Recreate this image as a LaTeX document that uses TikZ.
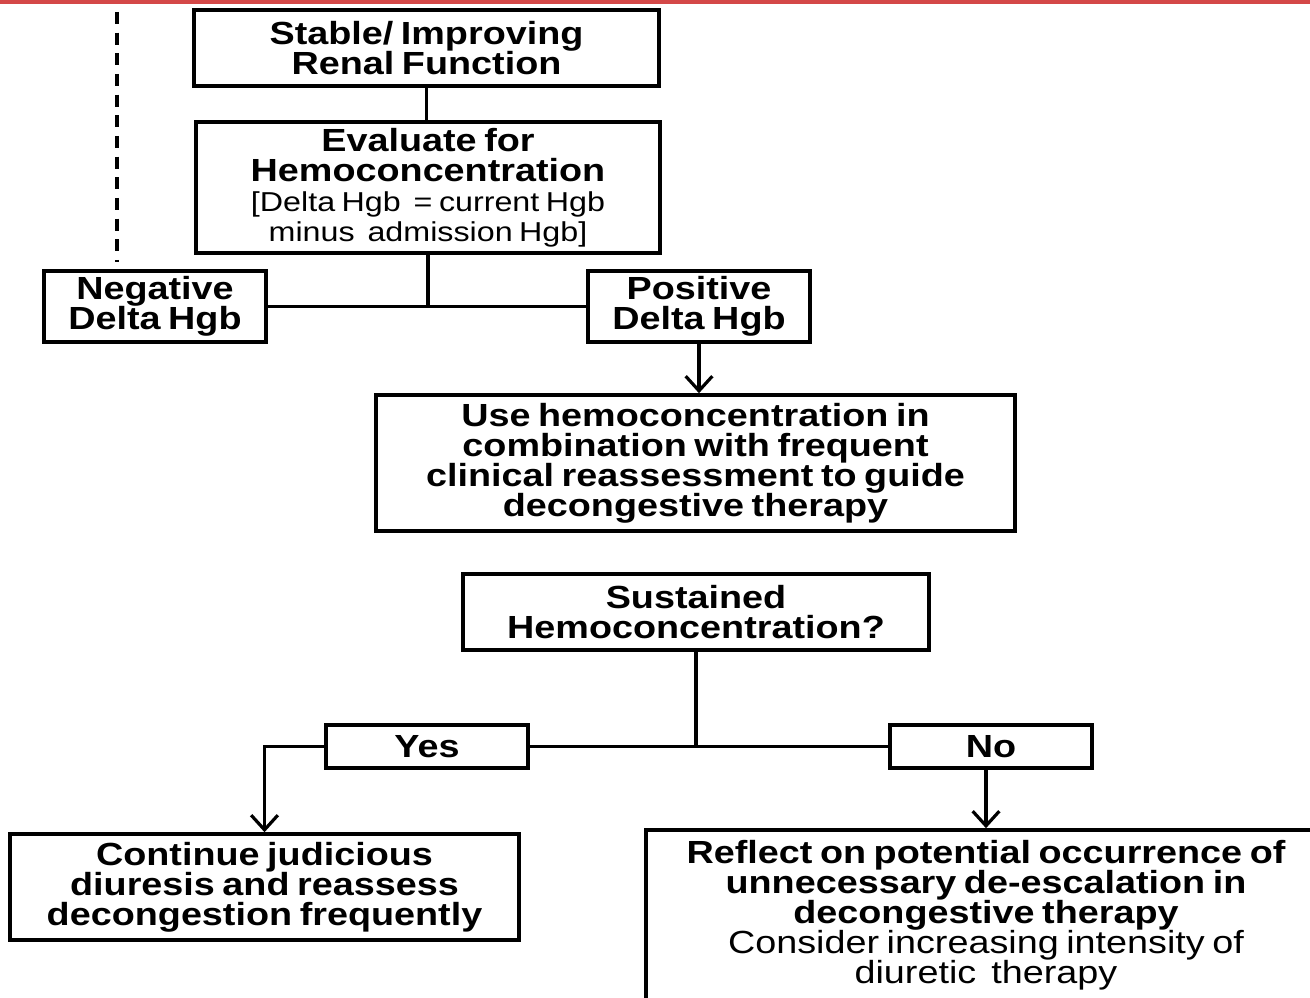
\documentclass[tikz,border=0pt]{standalone}
\usepackage{fontspec}
\setmainfont{Liberation Sans}[FakeStretch=1.18,WordSpace=0.72]
\usetikzlibrary{arrows.meta}
\newcommand\fbig{\fontsize{24}{22.5}\selectfont\bfseries}
\newcommand\fsml{\fontsize{20.5}{20}\selectfont\mdseries}
\newcommand\fnrm{\fontsize{24}{22.5}\selectfont\mdseries}
\definecolor{topred}{RGB}{212,72,72}
\begin{document}
\begin{tikzpicture}[x=0.75pt,y=-0.75pt,
  wh/.style 2 args={minimum width={#1*0.75pt}, minimum height={#2*0.75pt}},
  box/.style={draw, line width=2.7pt, align=center, inner sep=0pt, text=black, font=\fbig},
  conn/.style={line width=2.4pt},
  arr/.style={conn, -{Straight Barb[length=11pt,width=20pt,line width=2.4pt]}},
  dashline/.style={line width=3.2pt, dash pattern=on 9pt off 6.5pt}]
\useasboundingbox (0,0) rectangle (1310,998);
\clip (0,0) rectangle (1310,998);
\fill[white] (0,0) rectangle (1310,998);
\fill[topred] (0,0) rectangle (1310,4);

\node[box, wh={465}{76}] (stable) at (426.5,48) {Stable/ Improving\\Renal Function};
\node[box, wh={464}{131}] (eval) at (428,187.5) {Evaluate for\\Hemoconcentration\\{\fsml [Delta Hgb~ = current Hgb}\\{\fsml minus~ admission Hgb]}};
\node[box, wh={222}{71}] (neg) at (155,306.5) {Negative\\Delta Hgb};
\node[box, wh={222}{71}] (pos) at (699,306.5) {Positive\\Delta Hgb};
\node[box, wh={639}{136}] (use) at (695.5,463) {Use hemoconcentration in\\combination with frequent\\clinical reassessment to guide\\decongestive therapy};
\node[box, wh={466}{76}] (sus) at (696,612) {Sustained\\Hemoconcentration?};
\node[box, wh={202}{43}] (yes) at (427,746.5) {Yes};
\node[box, wh={202}{43}] (no) at (991,746.5) {No};
\node[box, wh={509}{106}] (cont) at (264.5,887) {Continue judicious\\diuresis and reassess\\decongestion frequently};
\node[box, wh={680}{170}] (refl) at (986,915) {Reflect on potential occurrence of\\unnecessary de-escalation in\\decongestive therapy\\{\fnrm Consider increasing intensity of}\\{\fnrm diuretic~ therapy}};

\coordinate (dtop) at (117,12);
\coordinate (dbot) at (117,262);
\draw[dashline] (dtop) -- (dbot);

\draw[conn] (stable.south) -- (stable.south |- eval.north);
\draw[conn] (eval.south) -- (eval.south |- neg.east);
\draw[conn] (neg.east) -- (pos.west);
\draw[arr] (pos.south) -- (pos.south |- use.north);
\draw[conn] (sus.south) -- (sus.south |- yes.east);
\draw[conn] (yes.east) -- (no.west);
\draw[arr] (yes.west) -| (cont.north);
\draw[arr] (no.south -| refl.north) -- (refl.north);
\end{tikzpicture}
\end{document}
